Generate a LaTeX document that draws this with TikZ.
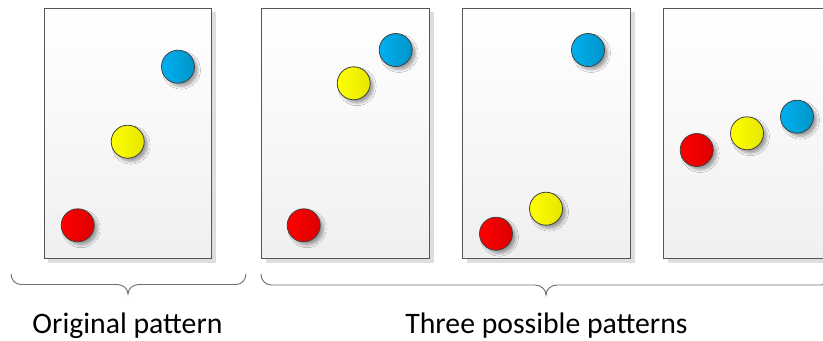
\documentclass[tikz,border=0pt]{standalone}
\usepackage{fontspec}
\setmainfont{Carlito}
\usetikzlibrary{shadows.blur}
\definecolor{frame}{HTML}{555555}
\definecolor{braceC}{HTML}{707070}
\definecolor{redA}{HTML}{FF0000}\definecolor{redB}{HTML}{DC0000}
\definecolor{yelA}{HTML}{FFFF00}\definecolor{yelB}{HTML}{E6E600}
\definecolor{bluA}{HTML}{00B0F0}\definecolor{bluB}{HTML}{0094C8}
\tikzset{
  panel/.style={draw=frame, line width=0.8pt, top color=white, bottom color={black!6}},
  pshadow/.style={fill={black!13}, draw=none},
  ball/.style={circle, draw=black!75, line width=0.6pt, minimum size=24.75pt, inner sep=0pt,
    blur shadow={shadow xshift=2.5pt, shadow yshift=-2.5pt, shadow blur steps=6, shadow opacity=35}},
  rball/.style={ball, left color=redA, right color=redB},
  yball/.style={ball, left color=yelA, right color=yelB},
  bball/.style={ball, left color=bluA, right color=bluB},
  bracepath/.style={draw=braceC, line width=0.7pt},
  lab/.style={font=\fontsize{22.3}{26}\selectfont, inner sep=0pt, anchor=base}
}
\begin{document}
\begin{tikzpicture}[x=0.75pt, y=-0.75pt]
\useasboundingbox (0,0) rectangle (823,340);
\clip (0,0) rectangle (823,340);
% panel shadows
\fill[pshadow] (48,12) rectangle (215.5,263);
\fill[pshadow] (265.5,12) rectangle (433.5,263);
\fill[pshadow] (466.5,12) rectangle (634.5,263);
\fill[pshadow] (667.5,12) rectangle (840,263);
% panels
\path[panel] (44.3,8.3) rectangle (211.3,258.7);
\path[panel] (261.7,8.3) rectangle (429.3,258.7);
\path[panel] (462.3,8.3) rectangle (630.3,258.7);
\path[panel] (663.3,8.3) rectangle (840,258.7);
% panel 1
\node[bball] (b1) at (178,66.7) {};
\node[yball] (y1) at (127.7,141.7) {};
\node[rball] (r1) at (77.7,225.3) {};
% panel 2
\node[bball] (b2) at (395.7,50) {};
\node[yball] (y2) at (353.7,83.3) {};
\node[rball] (r2) at (303.7,225.3) {};
% panel 3
\node[bball] (b3) at (588,50) {};
\node[yball] (y3) at (546,208.7) {};
\node[rball] (r3) at (496,233.7) {};
% panel 4
\node[bball] (b4) at (797,116.7) {};
\node[yball] (y4) at (747,133.3) {};
\node[rball] (r4) at (696.7,150) {};
% braces
\coordinate (a1) at (11,274); \coordinate (a2) at (246,274); \coordinate (t1) at (128,294);
\coordinate (c1) at (261,274); \coordinate (c2) at (831,274); \coordinate (t2) at (546,295);
\path[bracepath] (a1) to[out=-90,in=180] (21,284.5) -- (117,284.5) to[out=0,in=90] (t1)
  to[out=90,in=180] (139,284.5) -- (236,284.5) to[out=0,in=-90] (a2);
\path[bracepath] (c1) to[out=-90,in=180] (271,285) -- (535,285) to[out=0,in=90] (t2)
  to[out=90,in=180] (557,285) -- (821,285) to[out=0,in=-90] (c2);
% labels
\node[lab] (l1) at (127.5,333) {Original pattern};
\node[lab] (l2) at (546.5,333) {Three possible patterns};
\end{tikzpicture}
\end{document}
